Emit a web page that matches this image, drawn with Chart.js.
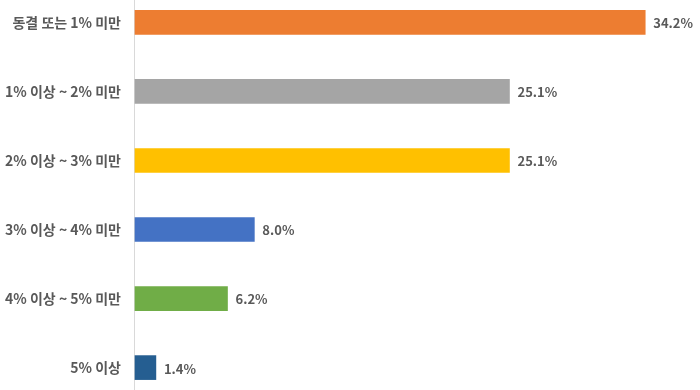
<!DOCTYPE html>
<html>
<head>
<meta charset="utf-8">
<script src="https://cdn.jsdelivr.net/npm/chart.js@4"></script>
<style>
  body { margin: 0; background: #fff; }
  #wrap { width: 700px; height: 390px; position: relative; }
</style>
</head>
<body>
<div id="wrap"><canvas id="rateChart"></canvas></div>
<script>
const categories = ['동결 또는 1% 미만', '1% 이상 ~ 2% 미만', '2% 이상 ~ 3% 미만', '3% 이상 ~ 4% 미만', '4% 이상 ~ 5% 미만', '5% 이상'];
const shares = [34.2, 25.1, 25.1, 8.0, 6.2, 1.4];
const barColors = ['#ED7D31', '#A5A5A5', '#FFC000', '#4472C4', '#70AD47', '#255E91'];

const font = '"Noto Sans CJK KR", "Noto Sans", sans-serif';

// full-height axis line at value 0
const axisLine = {
    id: 'axisLine',
    beforeDatasetsDraw(chart) {
        const c = chart.ctx;
        const x = Math.round(chart.scales.x.getPixelForValue(0)) - 0.5;
        c.save();
        c.strokeStyle = '#D9D9D9';
        c.lineWidth = 1;
        c.beginPath();
        c.moveTo(x, 0);
        c.lineTo(x, chart.height);
        c.stroke();
        c.restore();
    }
};

// value labels at the end of each bar
const valueLabels = {
    id: 'valueLabels',
    afterDatasetsDraw(chart) {
        const c = chart.ctx;
        const meta = chart.getDatasetMeta(0);
        c.save();
        c.font = 'bold 13px ' + font;
        c.fillStyle = '#595959';
        c.textAlign = 'left';
        c.textBaseline = 'middle';
        meta.data.forEach((bar, i) => {
            c.fillText(shares[i].toFixed(1) + '%', bar.x + 8, bar.y + 1);
        });
        c.restore();
    }
};

const ctx = document.getElementById('rateChart').getContext('2d');
new Chart(ctx, {
    type: 'bar',
    data: {
        labels: categories,
        datasets: [{
            data: shares,
            backgroundColor: barColors,
            borderWidth: 0,
            barThickness: 24,
            clip: false
        }]
    },
    options: {
        indexAxis: 'y',
        responsive: true,
        maintainAspectRatio: false,
        animation: false,
        layout: { padding: { top: 22, bottom: 20, left: 0, right: 13 } },
        plugins: {
            legend: { display: false },
            tooltip: { enabled: false }
        },
        scales: {
            x: {
                display: false,
                min: 0,
                max: 37
            },
            y: {
                offset: false,
                grid: { display: false, drawTicks: false },
                border: { display: false },
                ticks: {
                    color: '#595959',
                    padding: 14,
                    font: { family: font, size: 14, weight: 'bold' }
                },
                afterFit(scale) { scale.width = 135; }
            }
        }
    },
    plugins: [axisLine, valueLabels]
});
</script>
</body>
</html>
